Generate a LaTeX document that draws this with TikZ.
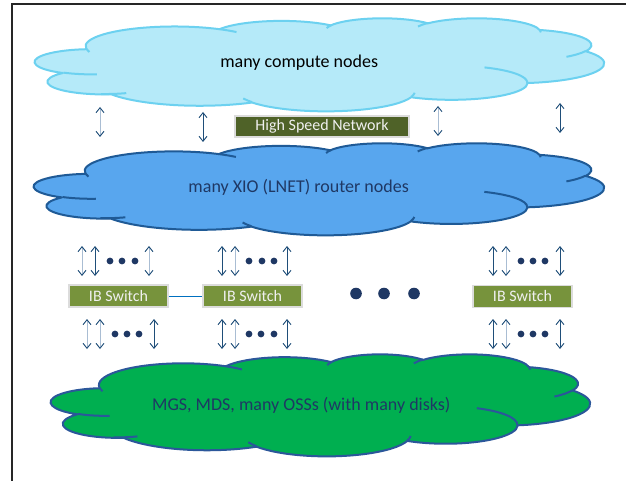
\documentclass[tikz,border=0pt]{standalone}
\usepackage{fontspec}
\setmainfont{Carlito}
\usetikzlibrary{arrows.meta}

\definecolor{navy}{HTML}{1F3864}
\definecolor{arrdark}{HTML}{1F4E79}
\definecolor{arrlight}{HTML}{A9BDD3}
\definecolor{cloudAfill}{HTML}{B5EAF9}
\definecolor{cloudAline}{HTML}{6CD1F0}
\definecolor{cloudBfill}{HTML}{58A6EE}
\definecolor{cloudBline}{HTML}{1F5A96}
\definecolor{cloudCfill}{HTML}{00AF50}
\definecolor{cloudCline}{HTML}{2B579A}
\definecolor{hsnfill}{HTML}{4F6228}
\definecolor{ibfill}{HTML}{77933C}
\definecolor{boxrim}{HTML}{DCDCDC}
\definecolor{boxtext}{HTML}{F0F0F0}
\definecolor{linkblue}{HTML}{0070C0}

% elliptical arc whose start and sweep are given as visual angles
% #1 x radius, #2 y radius, #3 start angle, #4 sweep
\newcommand\ooarc[4]{%
  \pgfextra{%
    \pgfmathsetmacro\ooA{#3}%
    \pgfmathsetmacro\ooB{#3+#4}%
    \pgfmathparse{\ooA+mod(atan2(#1*sin(\ooA),#2*cos(\ooA))-\ooA+900,360)-180}%
    \global\let\ooTa\pgfmathresult
    \pgfmathparse{\ooB+mod(atan2(#1*sin(\ooB),#2*cos(\ooB))-\ooB+900,360)-180}%
    \global\let\ooTb\pgfmathresult
  }%
  arc[start angle=\ooTa, end angle=\ooTb, x radius=#1, y radius=#2]%
}

% cloud outline in a 43.2 x 43.2 box: left, top, width, height, fill, line
\newcommand\pptcloud[6]{%
  \pgfmathsetmacro\ccx{#3/43.2}%
  \pgfmathsetmacro\ccy{#4/43.2}%
  \begin{scope}[shift={(#1,#2)}, x=\ccx pt, y=-\ccy pt, line width=2pt, line join=round]
    \filldraw[fill=#5, draw=#6] (3.900,14.370)
      \ooarc{6.753}{9.190}{-190.48748}{123.78053}
      \ooarc{5.333}{7.267}{-144.10238}{89.94523}
      \ooarc{4.365}{5.945}{-145.80792}{99.72302}
      \ooarc{4.857}{6.595}{-130.98607}{117.24173}
      \ooarc{5.333}{7.273}{-78.70888}{109.02692}
      \ooarc{6.775}{9.220}{-46.26725}{130.269}
      \ooarc{5.785}{7.867}{0.62502}{114.03333}
      \ooarc{6.752}{9.215}{22.4516}{115.17255}
      \ooarc{7.720}{10.543}{66.24263}{75.71102}
      \ooarc{4.360}{5.918}{-274.94208}{146.73557}
      \ooarc{4.345}{5.945}{-246.8285}{152.51885}
      -- cycle;
    \draw[#6]
      (4.693,26.177) \ooarc{4.345}{5.945}{86.742}{26.4295}
      (6.928,34.899) \ooarc{4.360}{5.918}{73.61047}{19.13677}
      (16.478,39.090) \ooarc{6.752}{9.215}{137.62415}{14.09785}
      (28.827,34.751) \ooarc{6.752}{9.215}{6.45327}{15.99835}
      (34.129,22.954) \ooarc{5.785}{7.867}{-70.29235}{70.91737}
      (41.798,15.354) \ooarc{5.333}{7.273}{30.31803}{27.7515}
      (38.324,5.426) \ooarc{4.857}{6.595}{-13.74433}{14.8589}
      (29.078,3.952) \ooarc{4.857}{6.595}{-149.18145}{18.19537}
      (22.141,4.720) \ooarc{4.365}{5.945}{-163.49427}{17.68635}
      (14.000,5.192) \ooarc{6.753}{9.190}{-66.70695}{12.31935}
      (4.127,15.789) \ooarc{6.753}{9.190}{157.65435}{11.85817};
  \end{scope}
}

\tikzset{
  cloudtext/.style={anchor=base, inner sep=0pt, font=\fontsize{18}{21}\selectfont},
  hsnbox/.style={draw=boxrim, line width=1.5pt, fill=hsnfill, text=boxtext,
    minimum width=174pt, minimum height=21pt, inner sep=0pt,
    font=\fontsize{16}{19}\selectfont},
  ibbox/.style={draw=boxrim, line width=1.5pt, fill=ibfill, text=boxtext,
    minimum width=99pt, minimum height=22pt, inner sep=0pt,
    font=\fontsize{16}{19}\selectfont},
  darklink/.style={line width=0.9pt, draw=arrdark,
    {Straight Barb[length=5pt,width=8pt,color=arrdark]}-{Straight Barb[length=5pt,width=8pt,color=arrdark]}},
  lightlink/.style={line width=0.9pt, draw=arrlight,
    {Straight Barb[length=5pt,width=8pt,color=arrdark]}-{Straight Barb[length=5pt,width=8pt,color=arrdark]}},
  smalldot/.style={fill=navy},
}

\begin{document}
\begin{tikzpicture}[x=1pt, y=-1pt]
  \useasboundingbox (0,0) rectangle (626,481);
  \fill[white] (0,0) rectangle (626,481);

  % slide frame
  \draw[line width=2pt, black!85] (11.5,481) -- (11.5,4.5) -- (626,4.5);

  % clouds
  \pptcloud{35}{18}{569}{93}{cloudAfill}{cloudAline}
  \pptcloud{34}{143}{570}{92}{cloudBfill}{cloudBline}
  \pptcloud{51}{354}{539}{102}{cloudCfill}{cloudCline}

  \node[cloudtext] (compute) at (299.2,67.5) {many compute nodes};
  \node[cloudtext, text=navy] (router) at (298.7,192.5) {many XIO (LNET) router nodes};
  \node[cloudtext, text=navy] (storage) at (301.3,410) {MGS, MDS, many OSSs (with many disks)};

  % network between compute and router nodes
  \node[hsnbox] (hsn) at (322,126.5) {High Speed Network};
  \foreach \n/\xx/\ya/\yb/\sty in {1/100/107/137/lightlink, 2/203/112/142/darklink,
      3/438/106/136/lightlink, 4/560/103/133/darklink}{
    \coordinate (hs\n a) at (\xx,\ya);
    \coordinate (hs\n b) at (\xx,\yb);
    \draw[\sty] (hs\n a) -- (hs\n b);
  }

  % InfiniBand switches
  \node[ibbox] (ib1) at (118.5,296) {IB Switch};
  \node[ibbox] (ib2) at (252.5,296) {IB Switch};
  \node[ibbox] (ib3) at (522.5,296.5) {IB Switch};
  \draw[linkblue, line width=1pt] (ib1.east) -- (ib2.west);

  % links above and below each switch
  \foreach \n/\xx/\ya/\yb/\sty in {
      a1/82/246/276/lightlink, a2/95/246/276/darklink, a3/149/246/276/lightlink,
      b1/87/319/349/lightlink, b2/100/319/349/lightlink, b3/154/319/349/darklink,
      c1/222/246/276/darklink, c2/235/246/276/lightlink, c3/287/246/276/darklink,
      d1/222/319/349/darklink, d2/235/319/349/lightlink, d3/287/319/349/darklink,
      e1/493/246/276/darklink, e2/506/246/276/lightlink, e3/560/246/276/darklink,
      f1/493/319/349/darklink, f2/506/319/349/lightlink, f3/560/319/349/darklink}{
    \coordinate (ln\n a) at (\xx,\ya);
    \coordinate (ln\n b) at (\xx,\yb);
    \draw[\sty] (ln\n a) -- (ln\n b);
  }

  % ellipses
  \foreach \xx/\yy in {110/261, 122/261, 135/261, 115/334, 127/334, 139/334,
      249/261, 262/261, 274/261, 249/334, 261/334, 274/334,
      521/261, 533/261, 545/261, 521/334, 533/334, 545/334}{
    \fill[smalldot] (\xx,\yy) circle[radius=3.4pt];
  }
  \foreach \xx in {356, 384, 414}{
    \fill[smalldot] (\xx,293.5) circle[radius=5.8pt];
  }
\end{tikzpicture}
\end{document}
